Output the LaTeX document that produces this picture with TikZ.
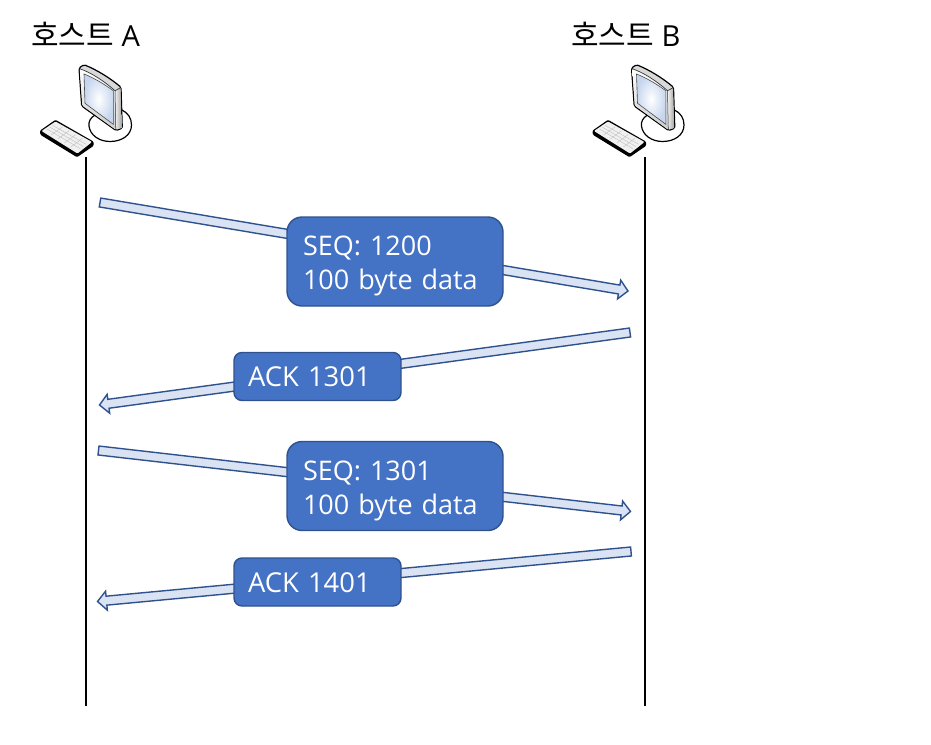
\documentclass[tikz,border=0pt]{standalone}
\usepackage{fontspec}
\setmainfont{Open Sans}
\newfontfamily\krfont{Noto Sans CJK KR}
\usetikzlibrary{calc}
\definecolor{boxfill}{HTML}{4472C4}
\definecolor{boxline}{HTML}{2F528F}
\definecolor{arrowfill}{HTML}{DAE3F3}
\definecolor{screenedge}{HTML}{C6D6EE}
\newcommand{\lowered}[2]{\raisebox{-#1}[\height][\depth]{#2}}
\tikzset{
  lifeline/.style={draw=black,line width=2pt},
  hostlabel/.style={inner sep=0pt,text=black,font=\fontsize{29}{30}\selectfont,anchor=west},
  fat/.style={draw=boxline,fill=arrowfill,line width=1.4pt,line join=miter},
  msg/.style={draw=boxline,fill=boxfill,line width=1.4pt,text=white,anchor=north west,inner sep=0pt,outer sep=0pt,
    align=left},
  databox/.style={msg,font=\fontsize{27}{34}\selectfont,rounded corners=15pt,minimum width=216pt,minimum height=89pt,text width=184pt},
  ackbox/.style={msg,font=\fontsize{27.4}{34}\selectfont,rounded corners=8pt,minimum width=167pt,minimum height=48pt,text width=139pt},
  iconline/.style={draw=black,line width=1.2pt,line join=round},
}
\newcommand{\fatarrow}[2]{%
  \coordinate (n#1) at ($(#2)!9pt!(#1)$);
  \draw[fat] ($(#1)!4.5pt!90:(#2)$) -- ($(n#1)!4.5pt!-90:(#1)$) -- ($(n#1)!9.5pt!-90:(#1)$) -- (#2)
    -- ($(n#1)!9.5pt!90:(#1)$) -- ($(n#1)!4.5pt!90:(#1)$) -- ($(#1)!4.5pt!-90:(#2)$) -- cycle;}
\newcommand{\hosticon}[1]{%
  \begin{scope}[shift={(#1,0)}]
    % base
    \draw[iconline,fill=white] (95,115) .. controls (90,118) and (88.5,122) .. (89,126)
       .. controls (90,135) and (99,141.5) .. (110,141.5)
       .. controls (122,141.5) and (131.5,135) .. (131.5,125) .. controls (131.5,118) and (128,113) .. (122,110) -- cycle;
    % keyboard
    \draw[iconline,fill=black,rounded corners=1pt] (40.5,131) -- (55.5,120.5) -- (93,142) -- (93,145.5) -- (77,156.5) -- (41,134.5) -- cycle;
    \fill[white!94!black,rounded corners=1pt] (41.5,131) -- (55.5,121.5) -- (92,142) -- (77.5,153.5) -- cycle;
    \foreach \t in {0.2,0.4,0.6,0.8}{
      \draw[white!75!black,line width=.4pt] ($(44.5,131)!\t!(77.5,151)$) -- ($(55.5,123.5)!\t!(89,142)$);}
    \foreach \t in {0.25,0.5,0.75}{
      \draw[white!75!black,line width=.4pt] ($(44.5,131)!\t!(55.5,123.5)$) -- ($(77.5,151)!\t!(89,142)$);}
    % monitor
    \draw[iconline,fill=white!85!black,rounded corners=1.5pt] (79,68) -- (84,64.7)
       .. controls (97,70) and (110,78) .. (121,87.3) -- (122.3,128.3) -- (116,130.5) -- (81.7,106) -- cycle;
    \shade[left color=white!92!black,right color=white!65!black,shading angle=90]
       (115.6,91) -- (120.5,87.8) -- (121.6,128) -- (116.3,129.5) -- cycle;
    \shade[top color=white,bottom color=white!80!black,rounded corners=1pt]
       (79.7,68.7) .. controls (92,73) and (104,81) .. (115,90.7) -- (115.8,129.8) -- (82.3,105.5) -- cycle;
    \draw[black!80,line width=.7pt] (79.7,68.7) .. controls (92,73) and (104,81) .. (115,90.7) -- (120.5,87.8);
    \draw[black!80,line width=.5pt] (115,90.7) -- (115.8,129.8);
    \shade[inner color=white,outer color=screenedge,draw=black!70,line width=.6pt]
      (84,74) .. controls (94,78) and (104,84) .. (113.3,90.7) -- (113.3,124.3) -- (85,103.3) -- cycle;
  \end{scope}}
\begin{document}
\begin{tikzpicture}[x=1pt,y=-1pt]
\useasboundingbox (0,0) rectangle (931,744);
\node[hostlabel] (la) at (31,34) {{\krfont\fontsize{30}{30}\selectfont 호스트} A};
\node[hostlabel] (lb) at (571,34) {{\krfont\fontsize{30}{30}\selectfont 호스트} B};
\hosticon{0}
\hosticon{552.5}
\coordinate (a0) at (86,157); \coordinate (a1) at (86,706);
\coordinate (b0) at (645,157); \coordinate (b1) at (645,706);
\draw[lifeline] (a0) -- (a1);
\draw[lifeline] (b0) -- (b1);
\coordinate (t1) at (100,202.5); \coordinate (h1) at (628,291);
\coordinate (t2) at (630,332.5); \coordinate (h2) at (99.5,405);
\coordinate (t3) at (98.5,450.5); \coordinate (h3) at (630.5,511.5);
\coordinate (t4) at (631,551.5); \coordinate (h4) at (97.5,601.5);
\fatarrow{t1}{h1}
\fatarrow{t2}{h2}
\fatarrow{t3}{h3}
\fatarrow{t4}{h4}
\node[databox] (m1) at (287,217) {\lowered{4pt}{SEQ: 1200}\\\lowered{4pt}{100 byte data}};
\node[ackbox] (m2) at (234,352.5) {\lowered{0.5pt}{ACK 1301}};
\node[databox] (m3) at (287,441.5) {\lowered{5pt}{SEQ: 1301}\\\lowered{5pt}{100 byte data}};
\node[ackbox] (m4) at (234,558) {\lowered{1pt}{ACK 1401}};
\end{tikzpicture}
\end{document}
